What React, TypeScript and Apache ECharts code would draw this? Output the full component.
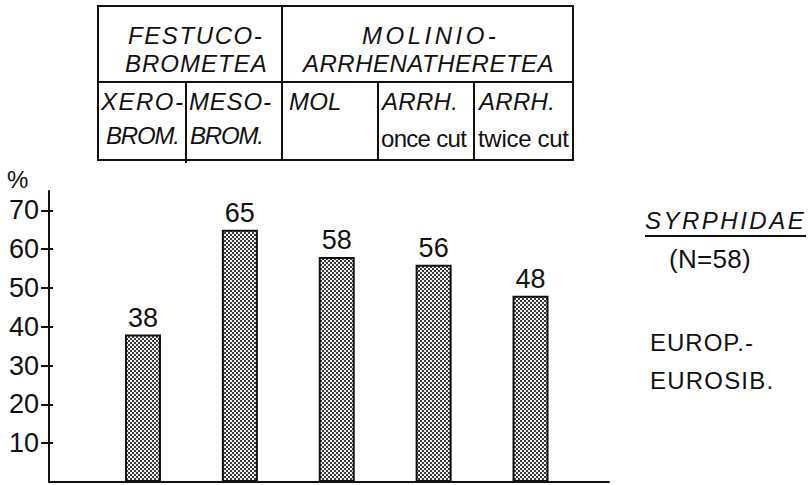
import React, { useEffect, useRef } from 'react';
import * as echarts from 'echarts';

// ---- data ----
const categories = ['XERO-BROM.', 'MESO-BROM.', 'MOL', 'ARRH. once cut', 'ARRH. twice cut'];
const values = [38, 65, 58, 56, 48];
const yTicks = [10, 20, 30, 40, 50, 60, 70];
const groupHeaders = [
  ['FESTUCO-', 'BROMETEA'],
  ['MOLINIO-', 'ARRHENATHERETEA'],
];
const subHeaders = [
  ['XERO-', 'BROM.'],
  ['MESO-', 'BROM.'],
  ['MOL'],
  ['ARRH.', 'once cut'],
  ['ARRH.', 'twice cut'],
];
const unitLabel = '%';
const sideTitle = 'SYRPHIDAE';
const sideCount = '(N=58)';
const sideGroup = ['EUROP.-', 'EUROSIB.'];

const FONT = '"Liberation Sans", Arial, sans-serif';
const INK = '#111';

const tile =
  'data:image/svg+xml;charset=utf-8,' +
  encodeURIComponent(
    '<svg xmlns="http://www.w3.org/2000/svg" width="4" height="4" shape-rendering="crispEdges">' +
      '<rect width="4" height="4" fill="#f2f2f2"/>' +
      '<rect x="0" y="0" width="2" height="2" fill="#3a3a3a"/>' +
      '<rect x="2" y="2" width="2" height="2" fill="#3a3a3a"/>' +
      '</svg>'
  );

export default function App() {
  const ref = useRef<HTMLDivElement>(null);

  useEffect(() => {
    if (!ref.current) return;
    const chart = echarts.init(ref.current, null, { renderer: 'svg' });

    const spacing: Record<string, number> = {};
    const texts: any[] = [];
    const addText = (
      text: string,
      x: number,
      y: number,
      opts: { size?: number; italic?: boolean; ls?: number } = {}
    ) => {
      if (opts.ls != null) spacing[text] = opts.ls;
      texts.push({
        type: 'text',
        silent: true,
        style: {
          text,
          x,
          y,
          fill: INK,
          fontFamily: FONT,
          fontSize: opts.size ?? 24,
          fontStyle: opts.italic ? 'italic' : 'normal',
          textAlign: 'left',
          textVerticalAlign: 'middle',
        },
      });
    };

    // table header texts (positions only)
    const groupPos = [
      [
        { x: 128, y: 35, ls: 1.6 },
        { x: 125, y: 63.5, ls: 1.0 },
      ],
      [
        { x: 362, y: 35, ls: 3.5 },
        { x: 303, y: 63.5, ls: 0.5 },
      ],
    ];
    groupHeaders.forEach((lines, g) =>
      lines.forEach((t, l) => {
        const p = groupPos[g][l];
        addText(t, p.x, p.y, { italic: true, ls: p.ls });
      })
    );
    const subPos = [
      [{ x: 101, y: 101.5, ls: 1.5, it: true }, { x: 106, y: 135, ls: -1.2, it: true }],
      [{ x: 189, y: 101.5, ls: 0.8, it: true }, { x: 190, y: 135, ls: -1.2, it: true }],
      [{ x: 289, y: 101.5, ls: 0.2, it: true }],
      [{ x: 382, y: 101.5, ls: 0.3, it: true }, { x: 381, y: 138, ls: -0.7, it: false }],
      [{ x: 479, y: 101.5, ls: 0.3, it: true }, { x: 478, y: 138, ls: -0.3, it: false }],
    ];
    subHeaders.forEach((lines, c) =>
      lines.forEach((t, l) => {
        const p = subPos[c][l];
        addText(t, p.x, p.y, { italic: p.it, ls: p.ls });
      })
    );

    // side labels
    addText(sideTitle, 645, 220.5, { italic: true, size: 24, ls: 2.5 });
    addText(sideCount, 669, 259, { size: 26, ls: 0.3 });
    addText(sideGroup[0], 650, 342, { size: 24, ls: 1.0 });
    addText(sideGroup[1], 650, 380.5, { size: 24, ls: 1.2 });
    addText(unitLabel, 7, 179, { size: 24 });

    const lineStyle = { stroke: INK, lineWidth: 2 };
    const seg = (x1: number, y1: number, x2: number, y2: number) => ({
      type: 'line',
      silent: true,
      shape: { x1, y1, x2, y2 },
      style: lineStyle,
    });

    const tableShapes = [
      {
        type: 'rect',
        silent: true,
        shape: { x: 98, y: 6, width: 475, height: 154 },
        style: { fill: 'none', stroke: INK, lineWidth: 2 },
      },
      seg(98, 82, 573, 82),
      seg(282, 6, 282, 160),
      seg(186, 82, 186, 163),
      seg(378, 82, 378, 160),
      seg(474, 82, 474, 160),
      seg(645, 236, 806, 236),
    ];

    const xPos = categories.map((_, i) => i + 1);

    chart.setOption({
      animation: false,
      backgroundColor: '#ffffff',
      grid: { left: 49, right: 199, top: 191, bottom: 3, containLabel: false },
      xAxis: {
        type: 'value',
        min: 0.03,
        max: 5.81,
        axisLine: { show: true, lineStyle: { color: INK, width: 2 } },
        axisTick: { show: false },
        axisLabel: { show: false },
        splitLine: { show: false },
      },
      yAxis: [
        {
          type: 'value',
          min: 0,
          max: 75,
          axisLine: { show: true, lineStyle: { color: INK, width: 2 } },
          axisTick: {
            show: true,
            customValues: yTicks,
            length: 8,
            lineStyle: { color: INK, width: 2 },
          },
          axisLabel: {
            customValues: yTicks,
            margin: 10,
            color: INK,
            fontFamily: FONT,
            fontSize: 27,
          },
          splitLine: { show: false },
        },
        {
          type: 'value',
          min: 0,
          max: 75,
          position: 'left',
          axisLine: { show: false },
          axisTick: {
            show: true,
            inside: true,
            customValues: yTicks,
            length: 4,
            lineStyle: { color: INK, width: 2 },
          },
          axisLabel: { show: false },
          splitLine: { show: false },
        },
      ],
      series: [
        {
          type: 'bar',
          yAxisIndex: 0,
          barWidth: 36,
          data: xPos.map((x, i) => [x, values[i]]),
          itemStyle: {
            color: { image: tile, repeat: 'repeat', imageWidth: 4, imageHeight: 4 } as any,
            borderColor: INK,
            borderWidth: 2,
          },
          label: {
            show: true,
            position: 'top',
            distance: 3,
            color: INK,
            fontFamily: FONT,
            fontSize: 27,
            formatter: (p: any) => String(p.value[1]),
          },
        },
      ],
      graphic: [...tableShapes, ...texts],
    });

    const applySpacing = () => {
      const svg = ref.current?.querySelector('svg');
      if (!svg) return;
      svg.querySelectorAll('text').forEach((t) => {
        const s = spacing[t.textContent || ''];
        if (s != null && s !== 0) t.setAttribute('letter-spacing', String(s));
      });
    };
    applySpacing();
    chart.on('finished', applySpacing);

    return () => {
      chart.dispose();
    };
  }, []);

  return (
    <div
      ref={ref}
      style={{ position: 'absolute', left: 0, top: 0, width: 808, height: 485, background: '#fff' }}
    />
  );
}
